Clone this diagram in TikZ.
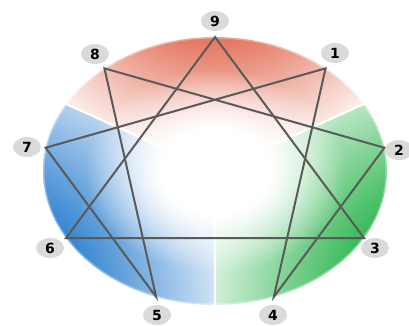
\documentclass[tikz,border=0pt]{standalone}
\usepackage{fontspec}
\setmainfont{DejaVu Sans}
\usetikzlibrary{shapes.geometric,fadings}
\definecolor{ered}{HTML}{E57A64}
\definecolor{egreen}{HTML}{3DBB5C}
\definecolor{eblue}{HTML}{3A88D2}
\definecolor{eline}{HTML}{5A5A5A}
\definecolor{elab}{HTML}{DADADA}
\pgfdeclareradialshading{redsh}{\pgfpointorigin}{color(0bp)=(ered); color(11bp)=(ered); color(25bp)=(white); color(50bp)=(white)}
\pgfdeclareradialshading{greensh}{\pgfpointorigin}{color(0bp)=(egreen); color(10.5bp)=(egreen); color(25bp)=(white); color(50bp)=(white)}
\pgfdeclareradialshading{bluesh}{\pgfpointorigin}{color(0bp)=(eblue); color(10.5bp)=(eblue); color(25bp)=(white); color(50bp)=(white)}
\pgfdeclareradialshading{cfshade}{\pgfpointorigin}{color(0bp)=(white); color(8bp)=(white); color(19bp)=(black); color(50bp)=(black)}
\pgfdeclarefading{centerfade}{\pgfuseshading{cfshade}}
\tikzset{
  edgeline/.style={draw=eline, line width=2pt},
  sepline/.style={draw=white, line width=2pt},
  lab/.style={ellipse, fill=elab, minimum width=28pt, minimum height=20pt, inner sep=0pt,
    font=\bfseries\fontsize{14}{14}\selectfont, text=black}
}
\begin{document}
\begin{tikzpicture}[x=1pt,y=-1pt]
\useasboundingbox (0,0) rectangle (409,325);
\coordinate (C) at (215,171);
\foreach \i/\a in {9/0,1/40,2/80,3/120,4/160,5/200,6/240,7/280,8/320}
  \coordinate (p\i) at ({215+172*sin(\a)},{171-134*cos(\a)});
\coordinate (sL) at ({215+172*sin(-60)},{171-134*cos(-60)});
\coordinate (sR) at ({215+172*sin(60)},{171-134*cos(60)});
\coordinate (sB) at (215,305);
% coloured sectors
\begin{scope}
  \clip (C) ellipse [x radius=172, y radius=134];
  \begin{scope}
    \clip (C) -- (-232,-30) -- (-232,-300) -- (662,-300) -- (662,-30) -- cycle;
    \shade[shading=redsh] (215,-60) circle [radius=235];
  \end{scope}
  \begin{scope}
    \clip (C) -- (662,-30) -- (662,600) -- (215,600) -- cycle;
    \shade[shading=greensh] (458,303) circle [radius=282];
  \end{scope}
  \begin{scope}
    \clip (C) -- (215,600) -- (-232,600) -- (-232,-30) -- cycle;
    \shade[shading=bluesh] (-28,303) circle [radius=282];
  \end{scope}
\end{scope}
\fill[white, path fading=centerfade] (C) ellipse [x radius=172, y radius=134];
\draw[white, opacity=0.35, line width=3pt] (C) ellipse [x radius=172, y radius=134];
\draw[sepline] (C) -- (sL);
\draw[sepline] (C) -- (sR);
\draw[sepline] (C) -- (sB);
% enneagram lines
\draw[edgeline] (p9) -- (p3) -- (p6) -- cycle;
\draw[edgeline] (p1) -- (p4) -- (p2) -- (p8) -- (p5) -- (p7) -- cycle;
% labels
\node[lab] (l9) at (215,21) {9};
\node[lab] (l1) at (335,53) {1};
\node[lab] (l2) at (399,150) {2};
\node[lab] (l3) at (375,248) {3};
\node[lab] (l4) at (273,315) {4};
\node[lab] (l5) at (157,315) {5};
\node[lab] (l6) at (50,248) {6};
\node[lab] (l7) at (27,147) {7};
\node[lab] (l8) at (95,54) {8};
\end{tikzpicture}
\end{document}
